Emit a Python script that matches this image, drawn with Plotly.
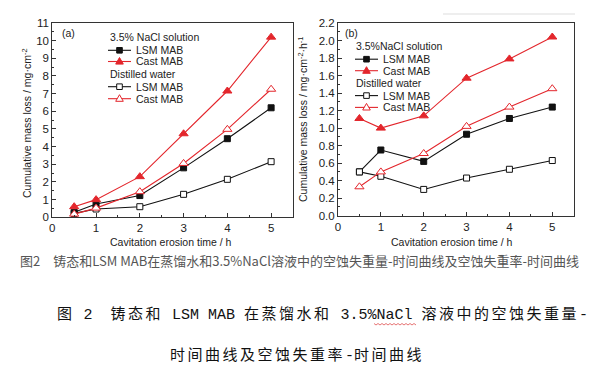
import plotly.graph_objects as go

W, H = 603, 372

# ---------------- data ----------------
time_h = [0.5, 1, 2, 3, 4, 5]
x_ticks = [0, 1, 2, 3, 4, 5]

# (a) cumulative mass loss / mg cm^-2
a_nacl_lsm = [0.28, 0.75, 1.23, 2.8, 4.45, 6.2]
a_nacl_cast = [0.6, 1.0, 2.3, 4.73, 7.15, 10.2]
a_dw_lsm = [0.22, 0.47, 0.6, 1.3, 2.15, 3.15]
a_dw_cast = [0.18, 0.52, 1.45, 3.05, 4.98, 7.25]
a_y_ticks = list(range(0, 12))

# (b) mass loss rate / mg cm^-2 h^-1
b_nacl_lsm = [0.5, 0.75, 0.62, 0.93, 1.11, 1.24]
b_nacl_cast = [1.11, 1.0, 1.14, 1.57, 1.79, 2.04]
b_dw_lsm = [0.5, 0.45, 0.3, 0.43, 0.53, 0.63]
b_dw_cast = [0.33, 0.5, 0.71, 1.02, 1.24, 1.45]
b_y_ticks = [0.0, 0.2, 0.4, 0.6, 0.8, 1.0, 1.2, 1.4, 1.6, 1.8, 2.0, 2.2]

series_names = ["LSM MAB", "Cast MAB"]
group_titles_a = ["3.5% NaCl solution", "Distilled water"]
group_titles_b = ["3.5%NaCl solution", "Distilled water"]

caption_small = "图2\u3000铸态和LSM MAB在蒸馏水和3.5%NaCl溶液中的空蚀失重量-时间曲线及空蚀失重率-时间曲线"
caption_big_1 = "图\u00a02\u00a0\u00a0铸态和\u00a0LSM\u00a0MAB\u00a0在蒸馏水和\u00a03.5%NaCl\u00a0溶液中的空蚀失重量-"
caption_big_2 = "时间曲线及空蚀失重率-时间曲线"

# ---------------- style ----------------
RED = "#e3262c"
BLACK = "#111111"
FONT = "Liberation Sans, Arial, sans-serif"


def px(x):
    return x / W


def py(y):
    return 1 - y / H


def spaced(s, sp="\u2006"):
    out = []
    for ch in s:
        out.append(ch)
        if "\u4e00" <= ch <= "\u9fff":
            out.append(sp)
    return "".join(out)


styles = {
    "nacl_lsm": dict(color=BLACK, symbol="square", size=6, fill=BLACK),
    "nacl_cast": dict(color=RED, symbol="triangle-up", size=8, fill=RED),
    "dw_lsm": dict(color=BLACK, symbol="square", size=6, fill="white"),
    "dw_cast": dict(color=RED, symbol="triangle-up", size=8, fill="white"),
}

fig = go.Figure()


def add_series(y, key, xa, ya):
    st = styles[key]
    fig.add_trace(go.Scatter(
        x=time_h, y=y, mode="lines+markers", xaxis=xa, yaxis=ya,
        line=dict(color=st["color"], width=1.1),
        marker=dict(symbol=st["symbol"], size=st["size"], color=st["fill"],
                    line=dict(color=st["color"], width=1)),
        showlegend=False, hoverinfo="x+y",
    ))


for y, k in [(a_dw_lsm, "dw_lsm"), (a_nacl_lsm, "nacl_lsm"),
             (a_dw_cast, "dw_cast"), (a_nacl_cast, "nacl_cast")]:
    add_series(y, k, "x", "y")
for y, k in [(b_nacl_lsm, "nacl_lsm"), (b_dw_lsm, "dw_lsm"),
             (b_dw_cast, "dw_cast"), (b_nacl_cast, "nacl_cast")]:
    add_series(y, k, "x2", "y2")

axis_common = dict(
    showline=True, linecolor="#333", linewidth=1, mirror=True,
    ticks="inside", ticklen=4, tickcolor="#333", tickwidth=1,
    showgrid=False, zeroline=False, automargin=False,
    tickfont=dict(family=FONT, size=11.5, color="#222"),
)

fig.update_layout(
    width=W, height=H, margin=dict(l=0, r=0, t=0, b=0),
    paper_bgcolor="white", plot_bgcolor="white",
    xaxis=dict(domain=[px(44.3), px(285)], range=[0, 5.5], tickvals=x_ticks,
               minor=dict(dtick=0.5, ticks="inside", ticklen=2, tickcolor="#333"),
               **axis_common),
    yaxis=dict(domain=[py(209.3), py(15)], range=[0, 11], tickvals=a_y_ticks,
               minor=dict(dtick=0.5, ticks="inside", ticklen=2, tickcolor="#333"),
               **axis_common),
    xaxis2=dict(domain=[px(330), px(565.7)], range=[0, 5.5], tickvals=x_ticks,
                anchor="y2",
                minor=dict(dtick=0.5, ticks="inside", ticklen=2, tickcolor="#333"),
                **axis_common),
    yaxis2=dict(domain=[py(207.7), py(15)], range=[0, 2.2], tickvals=b_y_ticks,
                tickformat=".1f", anchor="x2",
                minor=dict(dtick=0.1, ticks="inside", ticklen=2, tickcolor="#333"),
                **axis_common),
)

ann = []
shapes = []


def text(x, y, s, size=10.5, anchor="left", color="#222", family=FONT, angle=0):
    ann.append(dict(x=px(x), y=py(y), xref="paper", yref="paper", text=s,
                    showarrow=False, xanchor=anchor, yanchor="middle",
                    textangle=angle,
                    font=dict(family=family, size=size, color=color)))


def legend_row(x0, y, key, label):
    st = styles[key]
    shapes.append(dict(type="line", xref="paper", yref="paper",
                       x0=px(x0), x1=px(x0 + 23), y0=py(y), y1=py(y),
                       line=dict(color=st["color"], width=1.1)))
    cx = x0 + 11.5
    if st["symbol"] == "square":
        h = 2.8
        shapes.append(dict(type="rect", xref="paper", yref="paper",
                           x0=px(cx - h), x1=px(cx + h), y0=py(y + h), y1=py(y - h),
                           fillcolor=st["fill"], line=dict(color=st["color"], width=1)))
    else:
        r = 4
        path = (f"M{px(cx)},{py(y - r)} L{px(cx + r * 0.95)},{py(y + r * 0.65)} "
                f"L{px(cx - r * 0.95)},{py(y + r * 0.65)} Z")
        shapes.append(dict(type="path", xref="paper", yref="paper", path=path,
                           fillcolor=st["fill"], line=dict(color=st["color"], width=1)))
    text(x0 + 26, y, label)


# panel (a) legend and labels
text(52, 25, "(a)", size=10.5)
text(100, 29, group_titles_a[0])
legend_row(100, 42.3, "nacl_lsm", series_names[0])
legend_row(100, 53.5, "nacl_cast", series_names[1])
text(100, 66, group_titles_a[1])
legend_row(100, 78.7, "dw_lsm", series_names[0])
legend_row(100, 90.7, "dw_cast", series_names[1])

# panel (b) legend and labels
text(335, 25, "(b)", size=10.5)
text(346, 38, group_titles_b[0])
legend_row(347, 51.2, "nacl_lsm", series_names[0])
legend_row(347, 62.7, "nacl_cast", series_names[1])
text(346, 75, group_titles_b[1])
legend_row(347, 87.6, "dw_lsm", series_names[0])
legend_row(347, 99.4, "dw_cast", series_names[1])

# axis titles
text(163, 233.5, "Cavitation erosion time / h", anchor="center")
text(444, 233.5, "Cavitation erosion time / h", anchor="center")
text(19, 116, "Cumulative mass loss / mg·cm<sup>-2</sup>", anchor="center", angle=-90)
text(295, 112, "Cumulative mass loss / mg·cm<sup>-2</sup>·h<sup>-1</sup>", anchor="center", angle=-90)

# captions
text(10, 253, caption_small, size=13, color="#555",
     family="Noto Sans CJK SC, sans-serif")
text(47, 307, spaced(caption_big_1), size=15, color="#111",
     family="Liberation Mono, Noto Sans CJK SC, monospace")
text(160, 348, spaced(caption_big_2), size=15, color="#111",
     family="Liberation Mono, Noto Sans CJK SC, monospace")

# spell-check squiggle under NaCl and faint scan line
pts = []
xx = 366.0
k = 0
while xx <= 409:
    pts.append(f"{px(xx)},{py(316 + (1 if k % 2 else -0.5))}")
    xx += 2
    k += 1
shapes.append(dict(type="path", xref="paper", yref="paper",
                   path="M" + " L".join(pts), line=dict(color="#e05050", width=0.8)))
shapes.append(dict(type="line", xref="paper", yref="paper",
                   x0=px(435), x1=px(567), y0=py(6), y1=py(6),
                   line=dict(color="#dddddd", width=1)))

fig.update_layout(annotations=ann, shapes=shapes)
fig.write_html("out.html")
